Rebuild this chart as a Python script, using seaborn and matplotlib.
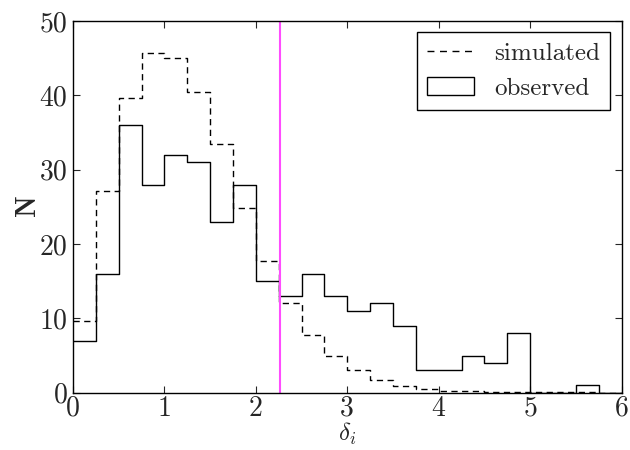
import numpy as np
import matplotlib
matplotlib.use("Agg")
import matplotlib.pyplot as plt
import seaborn as sns
from matplotlib.lines import Line2D
from matplotlib.patches import Patch

bin_edges = [0.0, 0.25, 0.5, 0.75, 1.0, 1.25, 1.5, 1.75, 2.0, 2.25, 2.5, 2.75,
             3.0, 3.25, 3.5, 3.75, 4.0, 4.25, 4.5, 4.75, 5.0, 5.25, 5.5, 5.75, 6.0]
observed = [7, 16, 36, 28, 32, 31, 23, 28, 15, 13, 16, 13,
            11, 12, 9, 3, 3, 5, 4, 8, 0, 0, 1, 0]
simulated = [9.6, 27.1, 39.7, 45.7, 45.0, 40.4, 33.4, 24.9, 17.7, 12.0, 7.8, 4.9,
             3.05, 1.7, 0.95, 0.5, 0.25, 0.18, 0.1, 0.1, 0.05, 0.05, 0.03, 0.02]
threshold = 2.26
x_ticks = [0, 1, 2, 3, 4, 5, 6]
y_ticks = [0, 10, 20, 30, 40, 50]

sns.set_style("ticks")
plt.rcParams["font.family"] = ["cmr10", "DejaVu Serif"]
plt.rcParams["mathtext.fontset"] = "cm"
plt.rcParams["axes.formatter.use_mathtext"] = True

centers = [(a + b) / 2 for a, b in zip(bin_edges[:-1], bin_edges[1:])]
dash_pat = (4.5, 3.2)

fig = plt.figure(figsize=(6.3, 4.5), dpi=100)
ax = fig.add_axes([73 / 630, 1 - 392.7 / 450, (621.5 - 73) / 630, (392.7 - 21) / 450])

sns.histplot(x=centers, weights=simulated, bins=bin_edges, element="step",
             fill=False, color="black", linestyle="--", dashes=dash_pat,
             linewidth=1.0, ax=ax)
sns.histplot(x=centers, weights=observed, bins=bin_edges, element="step",
             fill=False, color="black", linestyle="-", linewidth=1.0, ax=ax)
ax.axvline(threshold, color="#ff4cff", linewidth=1.5)

ax.set_xlim(0, 6)
ax.set_ylim(0, 50)
ax.set_xticks(x_ticks)
ax.set_yticks(y_ticks)
ax.set_xticklabels([str(t) for t in x_ticks])
ax.set_yticklabels([str(t) for t in y_ticks])
ax.tick_params(direction="in", top=True, right=True, length=5, width=0.8,
               labelsize=20, pad=4)
ax.tick_params(axis="x", pad=2)
for s in ax.spines.values():
    s.set_linewidth(1.0)
    s.set_color("black")

ax.set_xlabel(r"$\delta_i$", fontsize=18, labelpad=-1)
ax.set_ylabel(r"$\mathbf{N}$", fontsize=20, labelpad=-2)

handles = [Line2D([0], [0], color="black", linestyle="--", dashes=(5, 4), linewidth=1.0),
           Patch(facecolor="white", edgecolor="black", linewidth=1.0)]
leg = ax.legend(handles, ["simulated", "observed"], loc="upper right",
                fontsize=18, frameon=True, fancybox=False, framealpha=1,
                edgecolor="black", borderaxespad=0.45, handlelength=1.9,
                handletextpad=0.8, borderpad=0.4, labelspacing=0.5)
leg.get_frame().set_linewidth(1.0)

fig.savefig("out.png", dpi=100)
